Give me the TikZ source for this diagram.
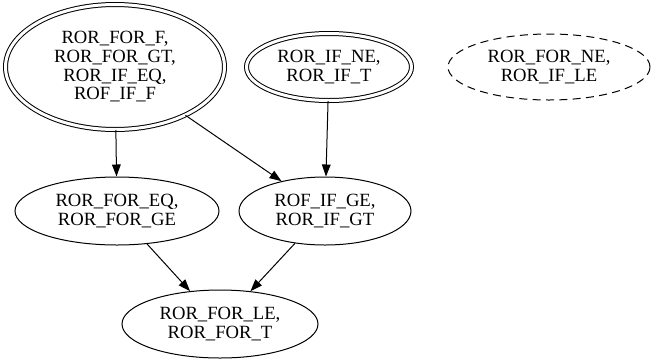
\documentclass[tikz,border=0pt]{standalone}
\usepackage{fontspec}
\setmainfont{Liberation Serif}
\usepackage{tikz}
\usetikzlibrary{arrows.meta, shapes.geometric}

\begin{document}
\begin{tikzpicture}[x=0.75pt, y=-0.75pt,
      every node/.style={font=\fontsize{14}{14}\selectfont, align=center},
      mut/.style={ellipse, draw, line width=0.75pt, inner sep=0pt, minimum height=51pt},
      twice/.style={mut, double, double distance=2.25pt},
      ar/.style={-{Triangle[length=9pt, width=6.5pt]}, line width=0.75pt}]
    \useasboundingbox (0,0) rectangle (667,362);
    \node[twice, minimum width=164.25pt, minimum height=93.75pt] (a) at (115,67)
        {ROR\_FOR\_F,\\ROR\_FOR\_GT,\\ROR\_IF\_EQ,\\ROF\_IF\_F};
    \node[twice, minimum width=123.75pt, minimum height=50.25pt] (b) at (329,67)
        {ROR\_IF\_NE,\\ROR\_IF\_T};
    \node[mut, dashed, dash pattern=on 6pt off 4pt, minimum width=151.5pt, minimum height=49.5pt] (c) at (549,67)
        {ROR\_FOR\_NE,\\ROR\_IF\_LE};
    \node[mut, minimum width=153pt] (d) at (117,211) {ROR\_FOR\_EQ,\\ROR\_FOR\_GE};
    \node[mut, minimum width=129pt] (e) at (325,211) {ROF\_IF\_GE,\\ROR\_IF\_GT};
    \node[mut, minimum width=147pt] (f) at (220,324) {ROR\_FOR\_LE,\\ROR\_FOR\_T};
    \draw[ar] (a) -- (d);
    \draw[ar] (a) -- (e);
    \draw[ar] (b) -- (e);
    \draw[ar] (d) -- (f);
    \draw[ar] (e) -- (f);
  \end{tikzpicture}
\end{document}
